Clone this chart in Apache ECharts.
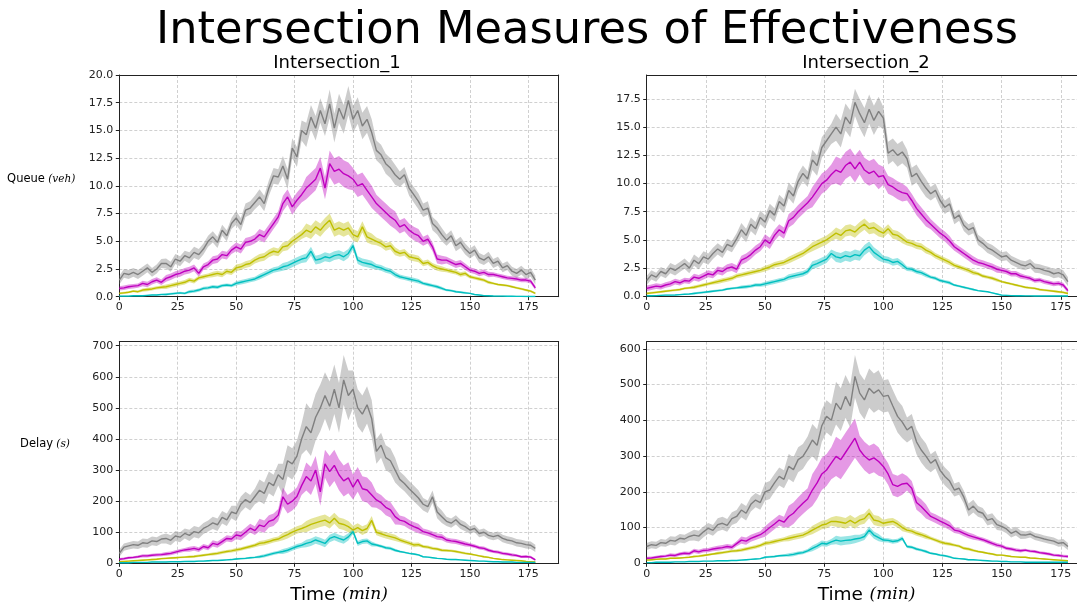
<!DOCTYPE html>
<html><head><meta charset="utf-8">
<script src="https://cdn.jsdelivr.net/npm/echarts@6/dist/echarts.min.js"></script>
<style>html,body{margin:0;padding:0;background:#fff}#c{width:1077px;height:608px}</style>
</head><body><div id="c"></div>
<script>
// sampling times (minutes), one reading every 2 minutes
const minutes = Array.from({length: 90}, (_, i) => 2 * i);
// band half-widths are given per 10-minute bin
const BAND_BIN = 10;

const mainTitle = 'Intersection Measures of Effectiveness';
const panelTitles = ['Intersection_1', 'Intersection_2'];
const seriesNames = ['gray', 'magenta', 'olive', 'cyan'];

// ---------- Intersection_1 queue (veh) ----------
const q1Gray = [1.5,2.1,2.0,2.2,2.0,2.3,2.6,2.2,2.5,3.0,
 3.0,2.7,3.4,3.2,3.7,3.5,4.0,3.8,4.3,5.0,
 5.4,4.9,6.0,5.5,6.6,7.1,6.5,7.8,8.0,8.5,
 9.0,8.4,9.8,10.9,10.8,11.8,10.6,13.4,12.6,15.0,
 14.6,16.2,15.2,16.8,15.6,17.4,15.2,17.0,16.0,17.7,
 16.0,16.8,15.4,16.0,14.8,13.2,12.8,12.0,11.6,11.0,
 10.6,11.0,9.8,9.2,8.6,7.8,8.0,6.6,6.2,5.6,
 5.1,5.5,4.6,4.9,4.3,3.9,4.2,3.5,3.3,3.6,
 3.0,3.2,2.6,2.8,2.3,2.1,2.4,2.0,2.2,1.5];
const q1Magenta = [0.75,0.8,0.9,0.95,1.0,1.2,1.1,1.35,1.5,1.3,
 1.65,1.8,2.0,2.1,2.3,2.4,2.6,2.1,2.7,2.9,
 3.3,3.4,3.8,3.7,4.2,4.5,4.3,4.9,5.0,5.2,
 5.6,5.4,6.0,6.6,7.2,8.4,9.0,8.1,8.7,9.2,
 9.8,10.2,10.6,11.6,9.8,12.0,11.3,11.5,11.1,10.9,
 10.6,10.0,10.2,9.6,9.0,8.4,8.0,7.6,7.2,6.9,
 6.3,6.5,6.0,5.7,5.5,5.0,5.2,4.5,3.4,3.3,
 3.3,3.1,2.9,3.0,2.7,2.4,2.3,2.1,2.2,2.0,
 2.0,1.9,1.8,1.7,1.65,1.6,1.5,1.5,1.4,0.8];
const q1Olive = [0.3,0.35,0.4,0.5,0.45,0.6,0.65,0.7,0.8,0.85,
 0.9,1.0,1.1,1.2,1.3,1.5,1.4,1.7,1.8,1.9,
 2.0,2.1,2.0,2.3,2.2,2.6,2.7,2.9,3.0,3.3,
 3.5,3.6,3.9,4.1,4.0,4.5,4.6,5.0,5.3,5.6,
 6.0,5.8,6.3,6.0,6.5,6.9,6.0,6.2,6.0,6.2,
 5.6,5.4,6.3,5.4,5.2,5.0,4.8,4.5,4.6,4.1,
 3.9,4.0,3.6,3.5,3.4,3.0,3.1,2.8,2.6,2.5,
 2.4,2.3,2.2,2.0,2.1,1.8,1.7,1.6,1.5,1.3,
 1.2,1.1,1.05,1.0,0.9,0.8,0.7,0.6,0.5,0.3];
const q1Cyan = [0.05,0.05,0.05,0.08,0.1,0.08,0.12,0.15,0.15,0.2,
 0.2,0.25,0.3,0.35,0.3,0.45,0.5,0.6,0.75,0.8,
 0.9,0.85,1.0,1.05,1.0,1.2,1.3,1.4,1.5,1.6,
 1.8,2.0,2.2,2.4,2.5,2.7,2.8,3.0,3.2,3.4,
 3.5,4.1,3.3,3.4,3.6,3.5,3.7,3.8,3.6,3.9,
 4.6,3.3,3.1,3.0,2.9,2.7,2.6,2.4,2.3,2.0,
 1.8,1.7,1.6,1.5,1.4,1.2,1.1,1.0,0.9,0.75,
 0.6,0.55,0.45,0.4,0.35,0.3,0.2,0.15,0.1,0.08,
 0.06,0.05,0.05,0.04,0.04,0.03,0.03,0.02,0.02,0.02];
const q1GrayBand = [0.4,0.4,0.45,0.5,0.5,0.6,0.7,0.9,1.1,1.3,1.2,0.9,0.7,0.6,0.5,0.45,0.4,0.4];
const q1MagentaBand = [0.2,0.25,0.3,0.3,0.35,0.4,0.5,0.7,1.0,1.2,1.0,0.8,0.6,0.4,0.3,0.25,0.2,0.2];
const q1OliveBand = [0.1,0.15,0.2,0.2,0.25,0.3,0.35,0.4,0.6,0.6,0.5,0.35,0.3,0.25,0.2,0.15,0.1,0.1];
const q1CyanBand = [0.05,0.05,0.1,0.15,0.15,0.2,0.25,0.35,0.4,0.4,0.35,0.25,0.2,0.15,0.1,0.05,0.05,0.05];

// ---------- Intersection_2 queue (veh) ----------
const q2Gray = [1.4,1.9,1.7,2.2,2.0,2.5,2.3,2.6,2.9,2.5,
 3.2,2.9,3.5,3.3,3.8,4.2,3.9,4.6,4.4,5.1,
 5.9,5.4,6.4,6.0,7.0,6.6,7.6,7.2,8.4,8.0,
 9.4,8.9,10.2,10.9,10.4,12.1,11.6,13.2,13.8,14.4,
 15.0,14.4,15.9,15.3,17.2,16.2,15.4,16.6,15.6,16.4,
 15.8,12.7,13.0,12.5,12.8,12.2,10.6,10.9,10.2,9.6,
 9.1,9.4,8.5,7.9,8.2,6.9,7.2,6.3,5.9,6.1,
 5.0,4.7,4.3,4.1,3.8,3.5,3.6,3.2,3.0,2.8,
 2.7,2.9,2.5,2.45,2.3,2.2,2.0,2.1,1.9,1.3];
const q2Magenta = [0.7,0.8,0.9,0.85,1.0,1.1,1.3,1.2,1.4,1.35,
 1.7,1.6,1.8,2.0,1.9,2.3,2.2,2.5,2.6,2.4,
 3.2,3.4,3.7,4.1,4.4,5.0,4.7,5.4,5.9,5.6,
 6.7,7.0,7.5,7.9,8.3,8.8,9.4,10.0,10.3,10.8,
 11.2,11.0,11.6,11.9,11.3,11.9,11.2,10.9,11.1,10.6,
 10.7,9.9,9.7,9.4,9.2,9.1,8.5,7.8,7.3,6.8,
 6.4,6.0,5.6,5.3,4.9,4.4,4.1,3.8,3.5,3.2,
 3.0,2.9,2.75,2.6,2.4,2.3,2.2,2.0,2.0,1.8,
 1.7,1.6,1.4,1.45,1.3,1.2,1.1,1.15,1.0,0.5];
const q2Olive = [0.25,0.3,0.35,0.4,0.45,0.5,0.55,0.6,0.7,0.75,
 0.8,0.9,1.0,1.1,1.2,1.3,1.4,1.5,1.6,1.8,
 1.9,2.0,2.1,2.2,2.3,2.45,2.6,2.8,2.9,3.0,
 3.2,3.4,3.6,3.8,4.1,4.4,4.6,4.8,5.0,5.3,
 5.6,5.4,5.8,5.9,5.7,6.1,6.4,6.0,6.1,5.8,
 5.6,6.0,5.5,5.4,5.1,4.8,4.7,4.5,4.4,4.1,
 3.9,3.6,3.4,3.2,3.0,2.75,2.6,2.45,2.3,2.1,
 2.0,1.8,1.7,1.6,1.45,1.3,1.2,1.1,1.0,0.9,
 0.8,0.75,0.7,0.6,0.55,0.5,0.45,0.4,0.35,0.25];
const q2Cyan = [0.05,0.05,0.06,0.08,0.1,0.1,0.12,0.15,0.18,0.2,
 0.25,0.3,0.35,0.4,0.45,0.5,0.55,0.65,0.7,0.75,
 0.8,0.85,0.9,1.0,1.0,1.1,1.2,1.3,1.4,1.5,
 1.7,1.8,1.9,2.0,2.2,2.75,2.9,3.1,3.3,3.8,
 3.5,3.4,3.6,3.5,3.7,3.6,4.1,4.4,3.9,3.6,
 3.3,3.2,3.0,3.1,2.8,2.45,2.4,2.2,2.1,1.9,
 1.7,1.6,1.4,1.3,1.2,1.0,0.9,0.8,0.7,0.6,
 0.5,0.45,0.4,0.3,0.2,0.1,0.08,0.06,0.05,0.05,
 0.04,0.04,0.03,0.03,0.03,0.02,0.02,0.02,0.02,0.02];
const q2GrayBand = [0.4,0.45,0.5,0.5,0.6,0.6,0.7,0.9,1.2,1.3,1.0,0.8,0.6,0.5,0.45,0.4,0.4,0.4];
const q2MagentaBand = [0.25,0.25,0.3,0.35,0.4,0.5,0.6,0.9,1.2,1.1,0.8,0.6,0.45,0.35,0.3,0.25,0.2,0.2];
const q2OliveBand = [0.1,0.1,0.15,0.2,0.2,0.25,0.3,0.4,0.5,0.5,0.4,0.3,0.25,0.2,0.15,0.1,0.1,0.1];
const q2CyanBand = [0.05,0.05,0.1,0.1,0.15,0.2,0.25,0.35,0.45,0.45,0.3,0.2,0.15,0.1,0.05,0.05,0.05,0.05];

// ---------- Intersection_1 delay (s) ----------
const d1Gray = [32,52,56,60,58,66,64,72,70,78,
 80,74,88,84,96,90,102,98,112,120,
 130,124,148,140,165,160,190,205,195,215,
 235,225,260,250,285,270,330,320,345,400,
 440,420,470,500,540,505,560,500,590,540,
 560,500,480,510,465,360,380,340,330,300,
 270,257,240,225,210,190,182,214,165,150,
 135,129,140,125,118,107,112,96,100,90,
 86,90,80,75,72,66,64,60,58,48];
const d1Magenta = [13,15,18,19,21,24,24,26,27,28,
 30,32,36,40,43,45,48,44,54,50,
 64,60,70,80,78,91,88,100,113,105,
 123,118,135,140,155,214,190,200,215,250,
 279,265,300,230,320,295,315,285,265,275,
 245,270,240,236,220,204,195,180,172,150,
 139,135,125,118,112,102,98,92,86,84,
 75,72,70,66,62,59,55,50,48,42,
 38,36,32,30,27,25,21,22,20,11];
const d1Olive = [5,6,7,8,9,10,11,12,13,15,
 16,17,18,19,20,21,22,24,26,28,
 30,32,35,38,40,43,46,50,54,58,
 64,66,70,75,78,86,92,100,107,112,
 118,125,130,135,139,130,145,129,125,118,
 107,115,105,112,138,100,95,90,86,82,
 75,70,65,59,60,54,52,48,46,42,
 41,40,38,35,32,30,27,24,21,19,
 16,14,12,11,10,9,8,6,5,4];
const d1Cyan = [2,2,2,3,3,3,3,4,4,4,
 4,5,5,5,6,6,6,7,7,8,
 9,9,10,11,12,14,15,16,18,19,
 21,24,28,32,35,38,42,48,54,58,
 64,68,75,70,64,80,86,80,75,85,
 102,64,70,72,62,59,55,50,48,42,
 38,35,32,30,27,21,20,18,16,15,
 13,12,12,11,10,9,8,7,7,6,
 5,5,4,4,4,3,3,3,3,3];
const d1GrayBand = [12,14,16,18,20,25,35,50,75,80,60,40,25,20,15,12,12,12];
const d1MagentaBand = [4,5,6,8,10,14,20,30,45,50,40,25,15,10,8,6,5,4];
const d1OliveBand = [2,3,3,4,5,6,8,12,18,18,14,10,7,5,4,3,2,2];
const d1CyanBand = [1,1,1,2,2,3,5,8,12,12,8,5,3,2,2,1,1,1];

// ---------- Intersection_2 delay (s) ----------
const d2Gray = [47,52,50,58,56,64,62,70,68,75,
 79,76,88,98,92,108,112,106,125,131,
 149,140,165,177,170,200,205,225,243,235,
 271,262,290,299,320,345,330,385,411,400,
 448,430,467,440,523,476,457,490,476,485,
 467,470,440,411,395,373,383,340,317,300,
 280,290,260,243,230,205,210,185,149,160,
 145,140,121,125,108,103,96,84,90,80,
 79,82,75,72,68,65,62,56,58,47];
const d2Magenta = [14,15,17,19,20,23,22,26,28,27,
 35,32,36,37,40,42,44,47,45,55,
 65,62,70,75,80,89,100,110,121,115,
 131,140,155,168,180,205,225,250,261,280,
 299,290,310,330,350,317,300,289,295,285,
 271,250,220,215,222,224,210,170,159,145,
 131,125,118,112,105,93,90,84,78,74,
 70,66,61,56,51,48,42,40,37,35,
 37,34,33,30,28,26,23,22,20,19];
const d2Olive = [9,10,11,12,12,14,14,15,16,17,
 19,20,22,24,26,28,30,32,34,35,
 37,40,43,46,50,56,58,61,64,67,
 70,73,76,79,85,93,100,107,110,117,
 117,115,112,120,112,121,125,140,121,118,
 112,115,117,110,100,93,90,84,80,75,
 70,65,60,56,54,51,48,42,40,36,
 33,31,28,26,23,23,21,19,18,17,
 17,15,14,13,12,11,10,9,8,7];
const d2Cyan = [2,2,3,3,3,3,4,4,4,5,
 5,5,6,6,6,7,7,7,8,8,
 9,10,11,12,13,17,18,19,21,22,
 23,25,28,30,35,42,48,56,54,60,
 65,62,64,65,68,70,75,93,79,72,
 65,64,61,63,70,47,45,40,37,33,
 28,26,23,21,18,14,13,12,10,10,
 9,8,7,6,6,5,5,4,4,4,
 3,3,3,3,3,3,3,3,3,3];
const d2GrayBand = [10,12,15,18,20,25,35,45,60,55,45,35,25,18,15,12,10,10];
const d2MagentaBand = [4,5,6,7,10,15,30,45,55,40,30,20,12,8,6,5,4,4];
const d2OliveBand = [2,2,3,4,5,6,8,12,15,14,10,7,5,4,3,2,2,2];
const d2CyanBand = [1,1,1,1,2,3,5,8,12,10,6,4,3,2,1,1,1,1];

// ---------- styling ----------
const lineColors = ['#808080', '#bf00bf', '#bfbf00', '#00bfbf'];
const bandColors = ['rgba(128,128,128,0.4)', 'rgba(191,0,191,0.4)', 'rgba(191,191,0,0.4)', 'rgba(0,191,191,0.4)'];
const FONT = '"DejaVu Sans", sans-serif';
const SERIF = '"DejaVu Serif", "Liberation Serif", serif';

const panels = [
  {grid: {left: 119.3, top: 75, width: 439.4, height: 221.7}, xMax: 188, yMax: 20, yInterval: 2.5, dec: 1,
   means: [q1Gray, q1Magenta, q1Olive, q1Cyan], bands: [q1GrayBand, q1MagentaBand, q1OliveBand, q1CyanBand]},
  {grid: {left: 646.7, top: 75, width: 439, height: 221.3}, xMax: 185.5, yMax: 19.63, yInterval: 2.5, dec: 1,
   means: [q2Gray, q2Magenta, q2Olive, q2Cyan], bands: [q2GrayBand, q2MagentaBand, q2OliveBand, q2CyanBand]},
  {grid: {left: 119.3, top: 341.7, width: 439.4, height: 221.6}, xMax: 188, yMax: 713, yInterval: 100, dec: 0,
   means: [d1Gray, d1Magenta, d1Olive, d1Cyan], bands: [d1GrayBand, d1MagentaBand, d1OliveBand, d1CyanBand]},
  {grid: {left: 646.7, top: 341.7, width: 439, height: 221.6}, xMax: 185.5, yMax: 620, yInterval: 100, dec: 0,
   means: [d2Gray, d2Magenta, d2Olive, d2Cyan], bands: [d2GrayBand, d2MagentaBand, d2OliveBand, d2CyanBand]}
];

const AX = '#222';
const grids = [], xAxes = [], yAxes = [], series = [];
panels.forEach((p, pi) => {
  grids.push(Object.assign({show: false, containLabel: false, outerBoundsMode: 'none'}, p.grid));
  const xi = xAxes.length, yi = yAxes.length;
  xAxes.push({
    gridIndex: pi, type: 'value', position: 'bottom', min: 0, max: p.xMax, interval: 25,
    axisLine: {show: true, onZero: false, lineStyle: {color: AX, width: 1}},
    axisTick: {show: true, length: 3.5, lineStyle: {color: AX, width: 1}},
    axisLabel: {fontFamily: FONT, fontSize: 11, color: AX, margin: 5, showMaxLabel: false},
    splitLine: {show: true, lineStyle: {type: [3, 2], color: '#c4c4c4', width: 0.8}}
  });
  // top frame edge
  xAxes.push({
    gridIndex: pi, type: 'value', position: 'top', min: 0, max: p.xMax,
    axisLine: {show: true, onZero: false, lineStyle: {color: AX, width: 1}},
    axisTick: {show: false}, axisLabel: {show: false}, splitLine: {show: false}
  });
  yAxes.push({
    gridIndex: pi, type: 'value', position: 'left', min: 0, max: p.yMax, interval: p.yInterval,
    axisLine: {show: true, onZero: false, lineStyle: {color: AX, width: 1}},
    axisTick: {show: true, length: 3.5, lineStyle: {color: AX, width: 1}},
    axisLabel: {fontFamily: FONT, fontSize: 11, color: AX, margin: 6, showMaxLabel: p.yMax % p.yInterval === 0,
      formatter: v => v.toFixed(p.dec)},
    splitLine: {show: true, lineStyle: {type: [3, 2], color: '#c4c4c4', width: 0.8}}
  });
  // right frame edge
  yAxes.push({
    gridIndex: pi, type: 'value', position: 'right', min: 0, max: p.yMax,
    axisLine: {show: true, onZero: false, lineStyle: {color: AX, width: 1}},
    axisTick: {show: false}, axisLabel: {show: false}, splitLine: {show: false}
  });
  p.means.forEach((vals, si) => {
    const hw = p.bands[si];
    const halfAt = i => hw[Math.floor(minutes[i] / BAND_BIN)];
    series.push({
      type: 'custom', xAxisIndex: xi, yAxisIndex: yi, data: [[minutes[0], vals[0]]], silent: true, z: 1,
      clip: true,
      renderItem: (params, api) => {
        const upper = vals.map((v, i) => api.coord([minutes[i], v + halfAt(i)]));
        const lower = vals.map((v, i) => api.coord([minutes[i], Math.max(0, v - halfAt(i))])).reverse();
        return {type: 'polygon', shape: {points: upper.concat(lower)},
          style: {fill: bandColors[si], stroke: null, lineWidth: 0}};
      }
    });
    series.push({type: 'line', name: seriesNames[si], xAxisIndex: xi, yAxisIndex: yi,
      data: vals.map((v, i) => [minutes[i], v]), symbol: 'none',
      lineStyle: {color: lineColors[si], width: 1.4}, itemStyle: {color: lineColors[si]}, z: 3});
  });
});

const graphics = [
  {type: 'text', x: 587, y: 31.5, style: {text: mainTitle, fontFamily: FONT, fontSize: 44.7, fill: '#000', align: 'center', verticalAlign: 'middle'}},
  {type: 'text', x: 337, y: 63, style: {text: panelTitles[0], fontFamily: FONT, fontSize: 18, fill: '#000', align: 'center', verticalAlign: 'middle'}},
  {type: 'text', x: 866, y: 63, style: {text: panelTitles[1], fontFamily: FONT, fontSize: 18, fill: '#000', align: 'center', verticalAlign: 'middle'}},
  {type: 'text', x: 41.2, y: 179, style: {text: '{a|Queue} {b|(veh)}', align: 'center', verticalAlign: 'middle',
    rich: {a: {fontFamily: FONT, fontSize: 11.5, fill: '#000'}, b: {fontFamily: SERIF, fontStyle: 'italic', fontSize: 10.5, fill: '#000'}}}},
  {type: 'text', x: 45, y: 444.5, style: {text: '{a|Delay} {b|(s)}', align: 'center', verticalAlign: 'middle',
    rich: {a: {fontFamily: FONT, fontSize: 11.5, fill: '#000'}, b: {fontFamily: SERIF, fontStyle: 'italic', fontSize: 10.5, fill: '#000'}}}},
  {type: 'text', x: 339, y: 595, style: {text: '{a|Time}  {b|(min)}', align: 'center', verticalAlign: 'middle',
    rich: {a: {fontFamily: FONT, fontSize: 18.5, fill: '#000'}, b: {fontFamily: SERIF, fontStyle: 'italic', fontSize: 17, fill: '#000'}}}},
  {type: 'text', x: 866.5, y: 595, style: {text: '{a|Time}  {b|(min)}', align: 'center', verticalAlign: 'middle',
    rich: {a: {fontFamily: FONT, fontSize: 18.5, fill: '#000'}, b: {fontFamily: SERIF, fontStyle: 'italic', fontSize: 17, fill: '#000'}}}}
];

const chart = echarts.init(document.getElementById('c'), null, {renderer: 'canvas'});
chart.setOption({
  animation: false,
  backgroundColor: '#fff',
  grid: grids, xAxis: xAxes, yAxis: yAxes, series: series,
  graphic: graphics
});
</script></body></html>
